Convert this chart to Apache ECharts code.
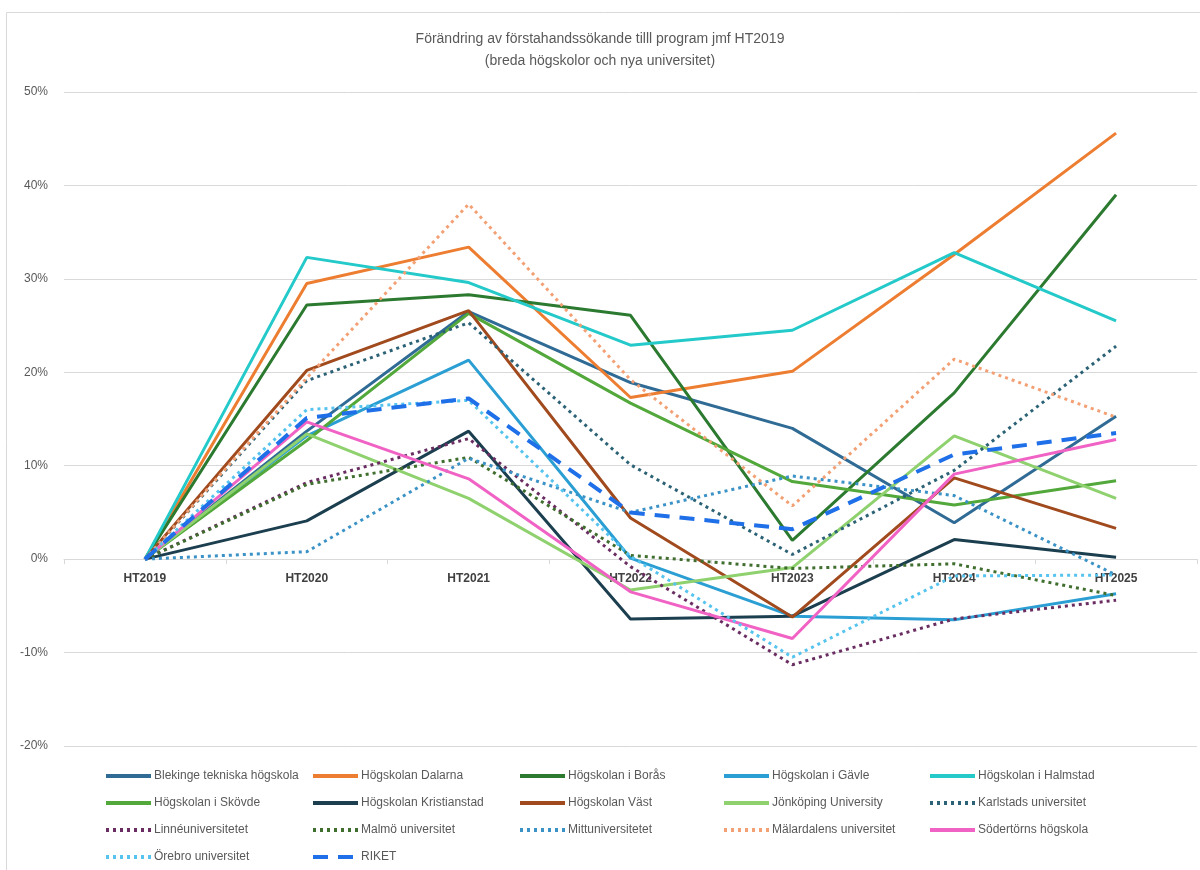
<!DOCTYPE html>
<html>
<head>
<meta charset="utf-8">
<script src="https://cdn.jsdelivr.net/npm/echarts@6/dist/echarts.min.js"></script>
<style>
  html, body { margin: 0; padding: 0; background: #fff; }
  #chart { width: 1200px; height: 870px; }
</style>
</head>
<body>
<div id="chart"></div>
<script>
// kategorier (x-axel)
var years = ['HT2019', 'HT2020', 'HT2021', 'HT2022', 'HT2023', 'HT2024', 'HT2025'];

// förändring i procent mot HT2019
var blekinge     = [0, 13.7, 26.5, 18.9, 14.0, 3.9, 15.3];
var dalarna      = [0, 29.5, 33.4, 17.3, 20.1, 32.6, 45.6];
var boras        = [0, 27.2, 28.3, 26.1, 2.0, 17.8, 39.0];
var gavle        = [0, 13.2, 21.3, 0.1, -6.1, -6.5, -3.7];
var halmstad     = [0, 32.3, 29.6, 22.9, 24.5, 32.8, 25.5];
var skovde       = [0, 12.7, 26.3, 16.7, 8.3, 5.8, 8.4];
var kristianstad = [0, 4.1, 13.7, -6.4, -6.1, 2.1, 0.2];
var vast         = [0, 20.2, 26.6, 4.4, -6.2, 8.7, 3.3];
var jonkoping    = [0, 13.4, 6.5, -3.3, -0.9, 13.2, 6.5];
var karlstad     = [0, 19.1, 25.3, 10.1, 0.5, 9.5, 22.8];
var linne        = [0, 8.2, 12.9, -0.8, -11.3, -6.4, -4.4];
var malmo        = [0, 8.0, 10.9, 0.4, -1.0, -0.5, -3.9];
var mittuni      = [0, 0.8, 10.8, 5.0, 8.9, 6.8, -1.7];
var malardalen   = [0, 19.4, 38.0, 19.2, 5.7, 21.4, 15.2];
var sodertorn    = [0, 14.7, 8.6, -3.5, -8.5, 9.1, 12.8];
var orebro       = [0, 16.0, 17.0, 0.3, -10.5, -1.8, -1.7];
var riket        = [0, 15.1, 17.2, 5.0, 3.2, 11.2, 13.5];

var chartDom = document.getElementById('chart');
var myChart = echarts.init(chartDom);

var dots = [3, 4];

function mkLine(name, data, color, type, width) {
  return {
    name: name,
    type: 'line',
    data: data,
    symbol: 'none',
    color: color,
    lineStyle: {
      color: color,
      width: width || 3,
      type: type || 'solid'
    },
    emphasis: { disabled: true }
  };
}

var series = [
  mkLine('Blekinge tekniska högskola', blekinge, '#2F6B94'),
  mkLine('Högskolan Dalarna', dalarna, '#ED7D31'),
  mkLine('Högskolan i Borås', boras, '#2B7A30'),
  mkLine('Högskolan i Gävle', gavle, '#2B9FD3'),
  mkLine('Högskolan i Halmstad', halmstad, '#24C9C9'),
  mkLine('Högskolan i Skövde', skovde, '#52A83A'),
  mkLine('Högskolan Kristianstad', kristianstad, '#1C3F50'),
  mkLine('Högskolan Väst', vast, '#A04A1E'),
  mkLine('Jönköping University', jonkoping, '#8FD16E'),
  mkLine('Karlstads universitet', karlstad, '#2C6275', dots),
  mkLine('Linnéuniversitetet', linne, '#6A2D62', dots),
  mkLine('Malmö universitet', malmo, '#3F6E2E', dots),
  mkLine('Mittuniversitetet', mittuni, '#3A92C6', dots),
  mkLine('Mälardalens universitet', malardalen, '#F2A074', dots),
  mkLine('Södertörns högskola', sodertorn, '#F062C4'),
  mkLine('Örebro universitet', orebro, '#56C4EE', dots),
  mkLine('RIKET', riket, '#1E6FE8', [15, 10], 4)
];

// legend columns like the excel layout
var legendCols = [
  ['Blekinge tekniska högskola', 'Högskolan i Skövde', 'Linnéuniversitetet', 'Örebro universitet'],
  ['Högskolan Dalarna', 'Högskolan Kristianstad', 'Malmö universitet', 'RIKET'],
  ['Högskolan i Borås', 'Högskolan Väst', 'Mittuniversitetet'],
  ['Högskolan i Gävle', 'Jönköping University', 'Mälardalens universitet'],
  ['Högskolan i Halmstad', 'Karlstads universitet', 'Södertörns högskola']
];
var legendLeft = [99, 306, 513, 717, 923];

var legends = [];
for (let i = 0; i < legendCols.length; i = i + 1) {
  legends.push({
    orient: 'vertical',
    left: legendLeft[i],
    top: 765,
    itemWidth: 45,
    itemHeight: 14,
    itemGap: 15,
    selectedMode: false,
    data: legendCols[i],
    lineStyle: { width: 4 },
    itemStyle: { opacity: 0, borderWidth: 0 },
    textStyle: {
      fontFamily: 'Liberation Sans, Arial, sans-serif',
      fontSize: 12,
      color: '#595959',
      padding: [0, 0, 0, -2]
    }
  });
}

var option = {
  animation: false,
  backgroundColor: '#fff',
  title: {
    text: 'Förändring av förstahandssökande tilll program jmf HT2019\n(breda högskolor och nya universitet)',
    left: 'center',
    top: 23,
    textStyle: {
      fontFamily: 'Liberation Sans, Arial, sans-serif',
      fontSize: 14,
      fontWeight: 'normal',
      color: '#595959',
      lineHeight: 22
    }
  },
  graphic: [
    {
      type: 'rect',
      shape: { x: 6.5, y: 12.5, width: 1200, height: 870 },
      style: { fill: 'none', stroke: '#d9d9d9', lineWidth: 1 },
      silent: true
    }
  ],
  legend: legends,
  grid: {
    left: 64,
    right: 3,
    top: 92,
    bottom: 124
  },
  xAxis: {
    type: 'category',
    data: years,
    boundaryGap: true,
    axisLine: { onZero: true, lineStyle: { color: '#d9d9d9', width: 1 } },
    axisTick: { show: true, length: 5, lineStyle: { color: '#d9d9d9' } },
    axisLabel: {
      margin: -173,
      fontFamily: 'Liberation Sans, Arial, sans-serif',
      fontSize: 12,
      fontWeight: 'bold',
      color: '#404040'
    }
  },
  yAxis: {
    type: 'value',
    min: -20,
    max: 50,
    interval: 10,
    axisLine: { show: false },
    axisTick: { show: false },
    splitLine: { lineStyle: { color: '#d9d9d9', width: 1 } },
    axisLabel: {
      margin: 16,
      formatter: '{value}%',
      fontFamily: 'Liberation Sans, Arial, sans-serif',
      fontSize: 12,
      color: '#595959'
    }
  },
  series: series
};

option && myChart.setOption(option);
</script>
</body>
</html>
